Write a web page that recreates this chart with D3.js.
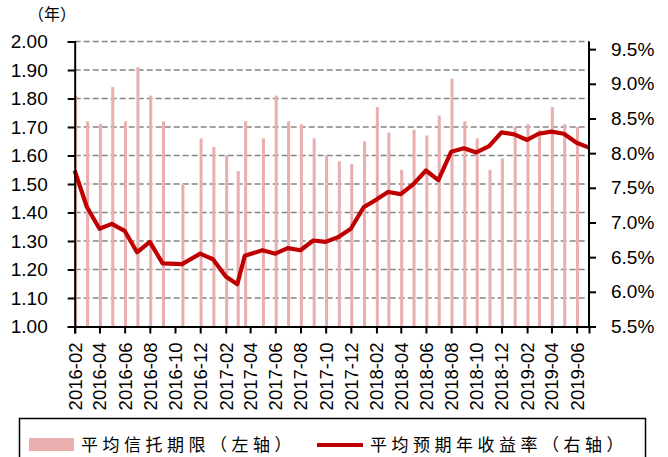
<!DOCTYPE html>
<html>
<head>
<meta charset="utf-8">
<script src="https://cdn.jsdelivr.net/npm/d3@7/dist/d3.min.js"></script>
<style>
    body { margin: 0; background: #fff; }
    svg { display: block; }
</style>
</head>
<body>
<div id="chart"></div>
<script>
'use strict'
//日期（个别月份数据日期不在月初）
var dates = [
    "2016-02-01", "2016-03-01", "2016-04-01", "2016-05-01", "2016-06-01", "2016-07-01", "2016-08-01", "2016-09-01",
    "2016-10-18", "2016-12-01", "2017-01-01", "2017-02-01", "2017-03-01", "2017-03-19", "2017-05-01", "2017-06-01",
    "2017-07-01", "2017-08-01", "2017-09-01", "2017-10-01", "2017-11-01", "2017-12-01", "2018-01-01", "2018-02-01",
    "2018-03-01", "2018-04-01", "2018-05-01", "2018-06-01", "2018-07-01", "2018-08-01", "2018-09-01", "2018-10-01",
    "2018-11-01", "2018-12-01", "2019-01-01", "2019-02-01", "2019-03-01", "2019-04-01", "2019-05-01", "2019-06-01",
    "2019-07-01"
];
//平均信托期限（年，左轴）
var termValues = [
    1.81, 1.72, 1.71, 1.84, 1.72, 1.91, 1.81, 1.72, 1.50, 1.66, 1.63, 1.60, 1.545, 1.72, 1.66, 1.81, 1.72, 1.71, 1.66, 1.60,
    1.58, 1.57, 1.65, 1.77, 1.68, 1.55, 1.69, 1.67, 1.74, 1.87, 1.72, 1.66, 1.55, 1.59, 1.70, 1.71, 1.69, 1.77, 1.71, 1.70,
    null
];
//平均预期年收益率（%，右轴）
var yieldValues = [
    7.75, 7.23, 6.91, 6.98, 6.88, 6.57, 6.72, 6.41, 6.40, 6.55, 6.47, 6.22, 6.11, 6.52, 6.60, 6.55, 6.63, 6.60, 6.74, 6.72,
    6.79, 6.91, 7.22, 7.33, 7.44, 7.41, 7.55, 7.75, 7.61, 8.02, 8.07, 8.01, 8.10, 8.30, 8.27, 8.19, 8.28, 8.31, 8.28, 8.15,
    8.08
];
//坐标轴刻度
var leftTicks = [1.0, 1.1, 1.2, 1.3, 1.4, 1.5, 1.6, 1.7, 1.8, 1.9, 2.0];
var rightTicks = [5.5, 6.0, 6.5, 7.0, 7.5, 8.0, 8.5, 9.0, 9.5];
var xTickLabels = [
    "2016-02", "2016-04", "2016-06", "2016-08", "2016-10", "2016-12", "2017-02", "2017-04", "2017-06", "2017-08", "2017-10",
    "2017-12", "2018-02", "2018-04", "2018-06", "2018-08", "2018-10", "2018-12", "2019-02", "2019-04", "2019-06"
];
var legendNames = ["平均信托期限（左轴）", "平均预期年收益率（右轴）"];

var width = 668, height = 457;
var plotLeft = 74.7, plotRight = 589, plotTop = 41.5, plotBottom = 326.5;
var numFont = "Arial, 'Liberation Sans', sans-serif";
var cjkFont = "'Noto Sans CJK SC', sans-serif";

var parse = d3.timeParse("%Y-%m-%d");
var data = dates.map(function (d, i) {
    return { date: parse(d), term: termValues[i], yield: yieldValues[i] };
});

var svg = d3.select("#chart").append("svg")
    .attr("width", width)
    .attr("height", height);

//比例尺
var x = d3.scaleTime()
    .domain([parse("2016-02-01"), parse("2019-07-01")])
    .range([plotLeft, plotRight]);
var yL = d3.scaleLinear().domain([1.0, 2.0]).range([plotBottom, plotTop]);
var yR = d3.scaleLinear().domain([5.5, 9.61]).range([plotBottom, plotTop]);

//网格线
svg.append("g").selectAll("line")
    .data(leftTicks.slice(1))
    .enter().append("line")
    .attr("x1", plotLeft).attr("x2", plotRight)
    .attr("y1", function (d) { return yL(d); })
    .attr("y2", function (d) { return yL(d); })
    .attr("stroke", "#858585")
    .attr("stroke-width", 1.3)
    .attr("stroke-dasharray", "6,3");

//柱子
svg.append("g").selectAll("rect")
    .data(data.filter(function (d) { return d.term != null; }))
    .enter().append("rect")
    .attr("x", function (d) { return x(d.date) - 0.6; })
    .attr("width", 3)
    .attr("y", function (d) { return yL(d.term); })
    .attr("height", function (d) { return yL(1.0) - yL(d.term); })
    .attr("fill", "#e9aeae");

//收益率折线
var line = d3.line()
    .x(function (d) { return x(d.date); })
    .y(function (d) { return yR(d.yield); });
svg.append("path")
    .datum(data)
    .attr("d", line)
    .attr("fill", "none")
    .attr("stroke", "#c00000")
    .attr("stroke-width", 4.2)
    .attr("stroke-linejoin", "round");

//左轴
var axisL = svg.append("g")
    .attr("transform", "translate(" + plotLeft + ",0)")
    .call(d3.axisLeft(yL).tickValues(leftTicks).tickSize(7).tickPadding(20).tickFormat(d3.format(".2f")));
//右轴
var axisR = svg.append("g")
    .attr("transform", "translate(" + plotRight + ",0)")
    .call(d3.axisRight(yR).tickValues(rightTicks).tickSize(7).tickPadding(15)
        .tickFormat(function (d) { return d.toFixed(1) + "%"; }));
//横轴，每两个月一个刻度
var xTicks = xTickLabels.map(function (s) { return parse(s + "-01"); });
var axisX = svg.append("g")
    .attr("transform", "translate(0," + plotBottom + ")")
    .call(d3.axisBottom(x).tickValues(xTicks).tickSize(7).tickFormat(function (d, i) { return xTickLabels[i]; }));
axisX.selectAll("text")
    .attr("transform", "rotate(-90)")
    .attr("text-anchor", "end")
    .attr("x", -16)
    .attr("y", 0)
    .attr("dy", "0.35em")
    .style("font-size", "18.5px");

[axisL, axisR, axisX].forEach(function (g) {
    g.selectAll(".domain").attr("stroke", "#000").attr("stroke-width", 2);
    g.selectAll(".tick line").attr("stroke", "#000").attr("stroke-width", 2);
    g.selectAll("text").attr("fill", "#000").style("font-family", numFont);
});
axisL.selectAll("text").style("font-size", "19px");
axisR.selectAll("text").style("font-size", "19px");
axisR.select(".domain").attr("d", "M0," + plotTop + "V" + plotBottom);

//单位
svg.append("text")
    .attr("x", 52).attr("y", 20)
    .attr("text-anchor", "middle")
    .style("font-family", cjkFont)
    .style("font-size", "16px")
    .text("（年）");

//图例
var legend = svg.append("g");
legend.append("rect")
    .attr("x", 19.5).attr("y", 418.5)
    .attr("width", 626).attr("height", 60)
    .attr("fill", "none")
    .attr("stroke", "#000")
    .attr("stroke-width", 1.5);
legend.append("rect")
    .attr("x", 29).attr("y", 438)
    .attr("width", 45).attr("height", 13)
    .attr("fill", "#e9aeae");
legend.append("line")
    .attr("x1", 317).attr("x2", 363)
    .attr("y1", 445).attr("y2", 445)
    .attr("stroke", "#c00000")
    .attr("stroke-width", 4.2);
legend.selectAll("text.name")
    .data(legendNames)
    .enter().append("text")
    .attr("class", "name")
    .attr("x", function (d, i) { return i === 0 ? 81 : 370; })
    .attr("y", 451)
    .style("font-family", cjkFont)
    .style("font-size", "17px")
    .style("letter-spacing", "4.5px")
    .text(function (d) { return d; });
</script>
</body>
</html>
